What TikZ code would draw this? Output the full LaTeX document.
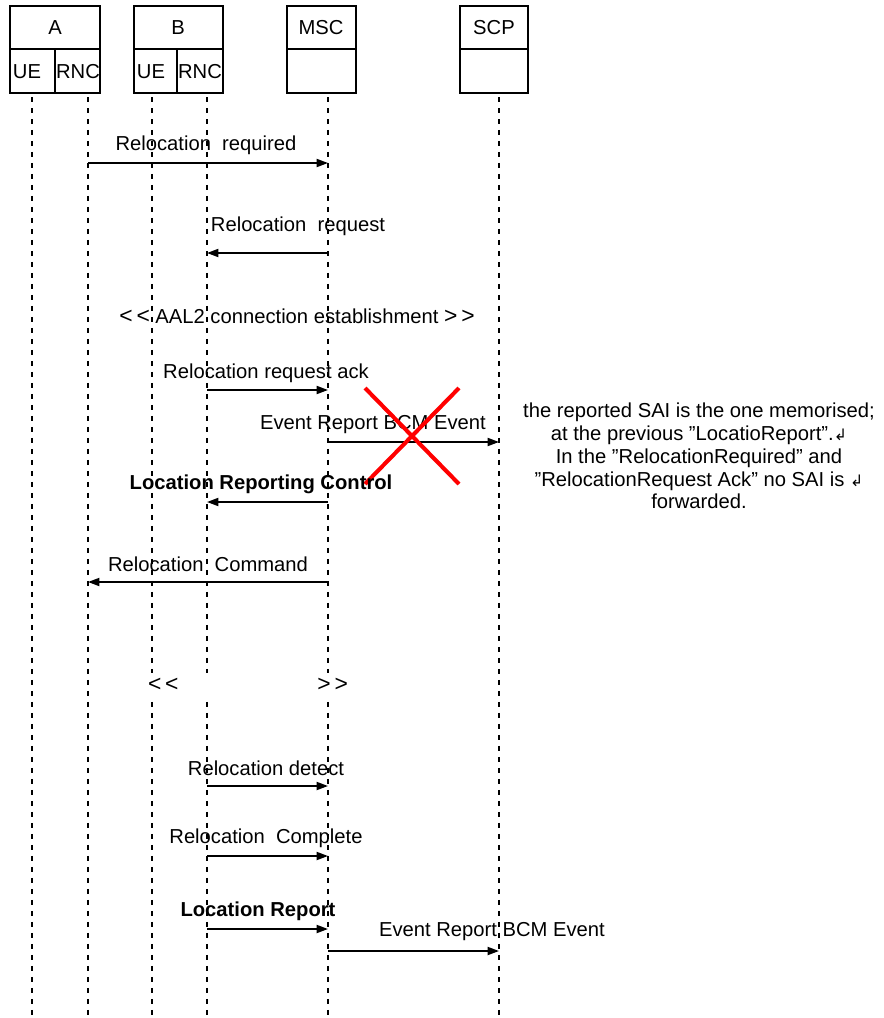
\documentclass[tikz,border=0pt]{standalone}
\usepackage{fontspec}
\setmainfont{Liberation Sans}
\newfontfamily\retfont{DejaVu Sans}
\usetikzlibrary{arrows.meta}

\begin{document}
\begin{tikzpicture}[x=0.02cm,y=-0.02cm,
    every node/.style={font=\fontsize{11.5}{13}\selectfont,inner sep=0pt},
    bx/.style={line width=1pt},
    life/.style={line width=1pt,dash pattern=on 0.1cm off 0.12cm},
    msg/.style={line width=1pt,-{Triangle[length=6.5pt,width=4.6pt]}},
    ang/.style={font=\fontsize{13}{13}\selectfont}]
  \useasboundingbox (0,0) rectangle (883,1018);
  \draw[bx](10,6)rectangle(100,93) (10,49)--(100,49) (55,49)--(55,93);
  \draw[bx](134,6)rectangle(223,93) (134,49)--(223,49) (177,49)--(177,93);
  \draw[bx](287,6)rectangle(356,93) (287,49)--(356,49);
  \draw[bx](460,6)rectangle(528,93) (460,49)--(528,49);
  \node (a) at (55,28) {A};
  \node (b) at (178,28) {B};
  \node (mscname) at (321,28) {MSC};
  \node (scpname) at (494,28) {SCP};
  \node (uename a) at (27,72) {UE};
  \node (rncname a) at (78,72) {RNC};
  \node (uename b) at (151,72) {UE};
  \node (rncname b) at (200,72) {RNC};
  \foreach \n/\x in {uea/32,rnca/88,ueb/152,rncb/207,msc/328,scp/499}
    \coordinate (\n) at (\x,97);
  \foreach \n in {uea,rnca,ueb,rncb,msc,scp}
    \draw[life](\n)--(\n |- 0,1015);
  \draw[msg](rnca |- 0,163)--(msc |- 0,163);
  \node (m1) at (206,145) {Relocation\ \ required};
  \draw[msg](msc |- 0,253)--(rncb |- 0,253);
  \node (m2) at (298,226) {Relocation\ \ request};
  \node (aal2) at (297,316) {{\fontsize{13}{13}\selectfont<\,<} AAL2 connection establishment {\fontsize{13}{13}\selectfont>\,>}};
  \draw[msg](rncb |- 0,390)--(msc |- 0,390);
  \node (m3) at (266,373) {Relocation\ request\ ack};
  \draw[msg](msc |- 0,442)--(scp |- 0,442);
  \node (m4) at (373,425) {Event Report BCM Event};
  \draw[red,line width=2.3pt](365,388)--(459,484) (459,388)--(365,484);
  \draw[msg](msc |- 0,502)--(rncb |- 0,502);
  \node (m5) at (261,484) {\bfseries Location Reporting\ Control};
  \draw[msg](msc |- 0,582)--(rnca |- 0,582);
  \node (m6) at (208,564) {Relocation\ \ Command};
  \node[fill=white,minimum width=4cm,minimum height=0.48cm] (gap) at (248,685) {};
  \node[ang,anchor=west] (open) at (gap.west) {<\,<};
  \node[ang,anchor=east] (close) at (gap.east) {>\,>};
  \draw[msg](rncb |- 0,786)--(msc |- 0,786);
  \node (m7) at (266,768) {Relocation\ detect};
  \draw[msg](rncb |- 0,856)--(msc |- 0,856);
  \node (m8) at (266,838) {Relocation\ \ Complete};
  \draw[msg](rncb |- 0,929)--(msc |- 0,929);
  \node (m9) at (258,911) {\bfseries Location Report};
  \draw[msg](msc |- 0,951)--(scp |- 0,951);
  \node (m10) at (492,932) {Event Report BCM Event};
  \node[align=center] (note) at (699,456) {the reported SAI is the one memorised;\\
    at the previous ”LocatioReport”.{\retfont\fontsize{9}{9}\selectfont↲}\\
    In the ”RelocationRequired” and\\
    ”RelocationRequest Ack” no SAI is {\retfont\fontsize{9}{9}\selectfont↲}\\
    forwarded.};
\end{tikzpicture}
\end{document}
